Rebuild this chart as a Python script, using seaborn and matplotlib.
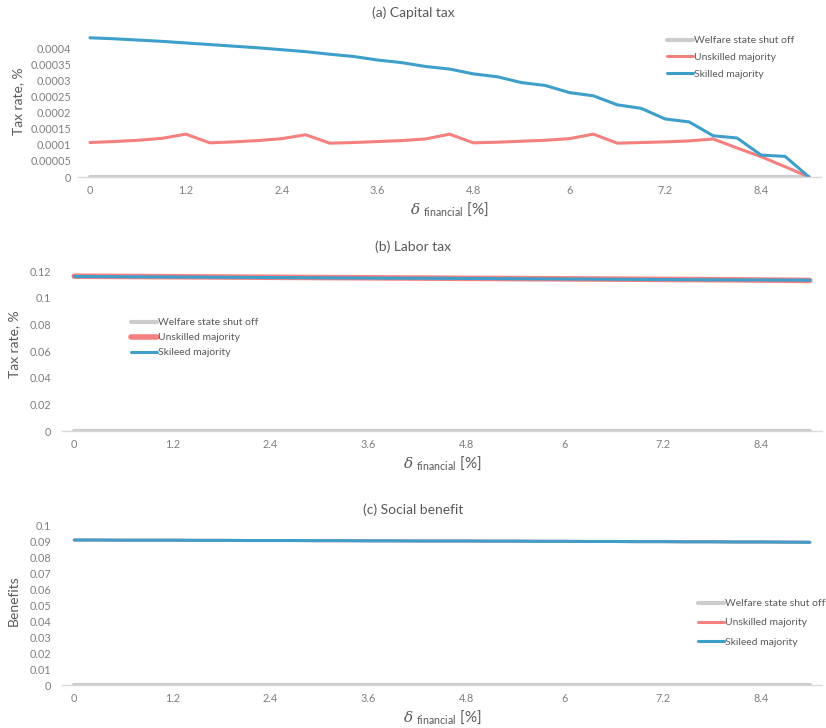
"""Welfare-state policy under shocks to delta_financial: capital tax, labor tax, social benefit."""

import matplotlib.pyplot as plt
import pandas as pd
import seaborn as sns

DELTA_FINANCIAL = [
    0.0, 0.3, 0.6, 0.9, 1.2, 1.5, 1.8, 2.1, 2.4, 2.7, 3.0,
    3.3, 3.6, 3.9, 4.2, 4.5, 4.8, 5.1, 5.4, 5.7, 6.0,
    6.3, 6.6, 6.9, 7.2, 7.5, 7.8, 8.1, 8.4, 8.7, 9.0,
]
X_TICKS = [0, 1.2, 2.4, 3.6, 4.8, 6, 7.2, 8.4]
X_TICK_LABELS = ["0", "1.2", "2.4", "3.6", "4.8", "6", "7.2", "8.4"]

SHUT_OFF = [
    0.0, 0.0, 0.0, 0.0, 0.0, 0.0, 0.0, 0.0, 0.0, 0.0, 0.0,
    0.0, 0.0, 0.0, 0.0, 0.0, 0.0, 0.0, 0.0, 0.0, 0.0,
    0.0, 0.0, 0.0, 0.0, 0.0, 0.0, 0.0, 0.0, 0.0, 0.0,
]

CAPITAL_UNSKILLED = [
    0.000107, 0.000110, 0.000114, 0.000120, 0.000133, 0.000106, 0.000109, 0.000113,
    0.000119, 0.000131, 0.000105, 0.000107, 0.000110, 0.000113, 0.000118, 0.000133,
    0.000106, 0.000108, 0.000111, 0.000114, 0.000119, 0.000133, 0.000105, 0.000107,
    0.000109, 0.000112, 0.000118, 0.000090, 0.000063, 0.000032, 0.0,
]
CAPITAL_SKILLED = [
    0.000432, 0.000429, 0.000425, 0.000421, 0.000416, 0.000411, 0.000406, 0.000401,
    0.000395, 0.000389, 0.000381, 0.000374, 0.000363, 0.000355, 0.000343, 0.000335,
    0.000320, 0.000311, 0.000293, 0.000284, 0.000262, 0.000252, 0.000224, 0.000213,
    0.000180, 0.000171, 0.000128, 0.000121, 0.000068, 0.000064, 0.0,
]

LABOR_UNSKILLED = [
    0.1161, 0.1160, 0.1159, 0.1158, 0.1157, 0.1156, 0.1155, 0.1154, 0.1153, 0.1152, 0.1151,
    0.1150, 0.1149, 0.1148, 0.1147, 0.1146, 0.1145, 0.1144, 0.1143, 0.1142, 0.1141,
    0.1140, 0.1139, 0.1138, 0.1137, 0.1136, 0.1135, 0.1134, 0.1132, 0.1131, 0.1129,
]
LABOR_SKILLED = [
    0.1159, 0.1158, 0.1157, 0.1156, 0.1155, 0.1154, 0.1153, 0.1152, 0.1151, 0.1150, 0.1149,
    0.1148, 0.1147, 0.1146, 0.1146, 0.1145, 0.1144, 0.1143, 0.1142, 0.1141, 0.1140,
    0.1139, 0.1138, 0.1137, 0.1136, 0.1135, 0.1134, 0.1133, 0.1133, 0.1132, 0.1131,
]

BENEFIT_UNSKILLED = [
    0.0906, 0.0906, 0.0905, 0.0905, 0.0905, 0.0904, 0.0904, 0.0903, 0.0903, 0.0903, 0.0902,
    0.0902, 0.0901, 0.0901, 0.0900, 0.0900, 0.0900, 0.0899, 0.0899, 0.0898, 0.0898,
    0.0897, 0.0897, 0.0896, 0.0896, 0.0895, 0.0895, 0.0894, 0.0894, 0.0893, 0.0892,
]
BENEFIT_SKILLED = BENEFIT_UNSKILLED

GRAY = "#CCCCCC"
RED = "#F4807F"
BLUE = "#3E9FCA"
TEXT = "#595959"
TICK_TEXT = "#7F7F7F"
AXIS_LINE = "#D9D9D9"

FIG_W, FIG_H = 826, 728


def px_rect(left: float, top: float, right: float, bottom: float) -> list[float]:
    return [left / FIG_W, 1 - bottom / FIG_H, (right - left) / FIG_W, (bottom - top) / FIG_H]


def draw_panel(ax, series: list[tuple[str, list[float], str, float]]) -> None:
    for name, values, color, width in series:
        frame = pd.DataFrame({"delta": DELTA_FINANCIAL, "value": values})
        sns.lineplot(data=frame, x="delta", y="value", color=color, linewidth=width, label=name, ax=ax)

    ax.set_xlim(-0.15, 9.15)
    ax.set_xticks(X_TICKS, X_TICK_LABELS)
    sns.despine(ax=ax, left=True)
    ax.spines["bottom"].set_color(AXIS_LINE)
    ax.spines["bottom"].set_linewidth(1.0)
    ax.tick_params(length=0, labelsize=7.8, colors=TICK_TEXT)
    ax.tick_params(axis="x", pad=6)
    ax.set_xlabel(r"$\delta$ $_{\rm financial}$ [%]", fontsize=11, color=TEXT, labelpad=3)


def place_legend(fig, ax, x_px: float, top_px: float, spacing: float) -> None:
    ax.legend(
        loc="upper left",
        bbox_to_anchor=(x_px / FIG_W, 1 - top_px / FIG_H),
        bbox_transform=fig.transFigure,
        frameon=False,
        fontsize=7.5,
        labelcolor=TEXT,
        handlelength=2.5,
        handletextpad=0.1,
        labelspacing=spacing,
        borderpad=0,
        borderaxespad=0,
    )


def main() -> None:
    sns.set_theme(style="white")
    plt.rcParams["font.family"] = ["Lato", "DejaVu Sans"]
    plt.rcParams["mathtext.fontset"] = "custom"
    plt.rcParams["mathtext.rm"] = "Lato"
    plt.rcParams["mathtext.it"] = "DejaVu Serif:italic"

    fig = plt.figure(figsize=(FIG_W / 100, FIG_H / 100), dpi=100)

    # (a) Capital tax
    ax_a = fig.add_axes(px_rect(78, 32, 821, 177))
    draw_panel(ax_a, [
        ("Welfare state shut off", SHUT_OFF, GRAY, 3.0),
        ("Unskilled majority", CAPITAL_UNSKILLED, RED, 2.2),
        ("Skilled majority", CAPITAL_SKILLED, BLUE, 2.2),
    ])
    ax_a.set_ylim(0, 0.00045)
    ax_a.set_yticks(
        [0, 0.00005, 0.0001, 0.00015, 0.0002, 0.00025, 0.0003, 0.00035, 0.0004],
        ["0", "0.00005", "0.0001", "0.00015", "0.0002", "0.00025", "0.0003", "0.00035", "0.0004"],
    )
    ax_a.tick_params(axis="y", pad=5)
    ax_a.set_ylabel("Tax rate, %", fontsize=10, color=TEXT)
    ax_a.yaxis.set_label_coords(-0.072, 0.52)
    place_legend(fig, ax_a, 667, 36, 0.72)
    fig.text(0.5, 1 - 13 / FIG_H, "(a) Capital tax", ha="center", va="center", fontsize=10, color=TEXT)

    # (b) Labor tax
    ax_b = fig.add_axes(px_rect(62, 271, 822, 431))
    draw_panel(ax_b, [
        ("Welfare state shut off", SHUT_OFF, GRAY, 3.0),
        ("Unskilled majority", LABOR_UNSKILLED, RED, 4.0),
        ("Skileed majority", LABOR_SKILLED, BLUE, 2.2),
    ])
    ax_b.set_ylim(0, 0.12)
    ax_b.set_yticks([0, 0.02, 0.04, 0.06, 0.08, 0.1, 0.12], ["0", "0.02", "0.04", "0.06", "0.08", "0.1", "0.12"])
    ax_b.tick_params(axis="y", pad=8)
    ax_b.set_ylabel("Tax rate, %", fontsize=10, color=TEXT)
    ax_b.yaxis.set_label_coords(-0.055, 0.54)
    place_legend(fig, ax_b, 131, 318, 0.55)
    fig.text(0.5, 1 - 247 / FIG_H, "(b) Labor tax", ha="center", va="center", fontsize=10, color=TEXT)

    # (c) Social benefit
    ax_c = fig.add_axes(px_rect(62, 525, 822, 685))
    draw_panel(ax_c, [
        ("Welfare state shut off", SHUT_OFF, GRAY, 3.0),
        ("Unskilled majority", BENEFIT_UNSKILLED, RED, 2.2),
        ("Skileed majority", BENEFIT_SKILLED, BLUE, 2.2),
    ])
    ax_c.set_ylim(0, 0.1)
    ax_c.set_yticks(
        [0, 0.01, 0.02, 0.03, 0.04, 0.05, 0.06, 0.07, 0.08, 0.09, 0.1],
        ["0", "0.01", "0.02", "0.03", "0.04", "0.05", "0.06", "0.07", "0.08", "0.09", "0.1"],
    )
    ax_c.tick_params(axis="y", pad=8)
    ax_c.set_ylabel("Benefits", fontsize=10, color=TEXT)
    ax_c.yaxis.set_label_coords(-0.055, 0.525)
    place_legend(fig, ax_c, 698, 599, 0.95)
    fig.text(0.5, 1 - 510 / FIG_H, "(c) Social benefit", ha="center", va="center", fontsize=10, color=TEXT)

    fig.savefig("out.png", dpi=100)


if __name__ == "__main__":
    main()
